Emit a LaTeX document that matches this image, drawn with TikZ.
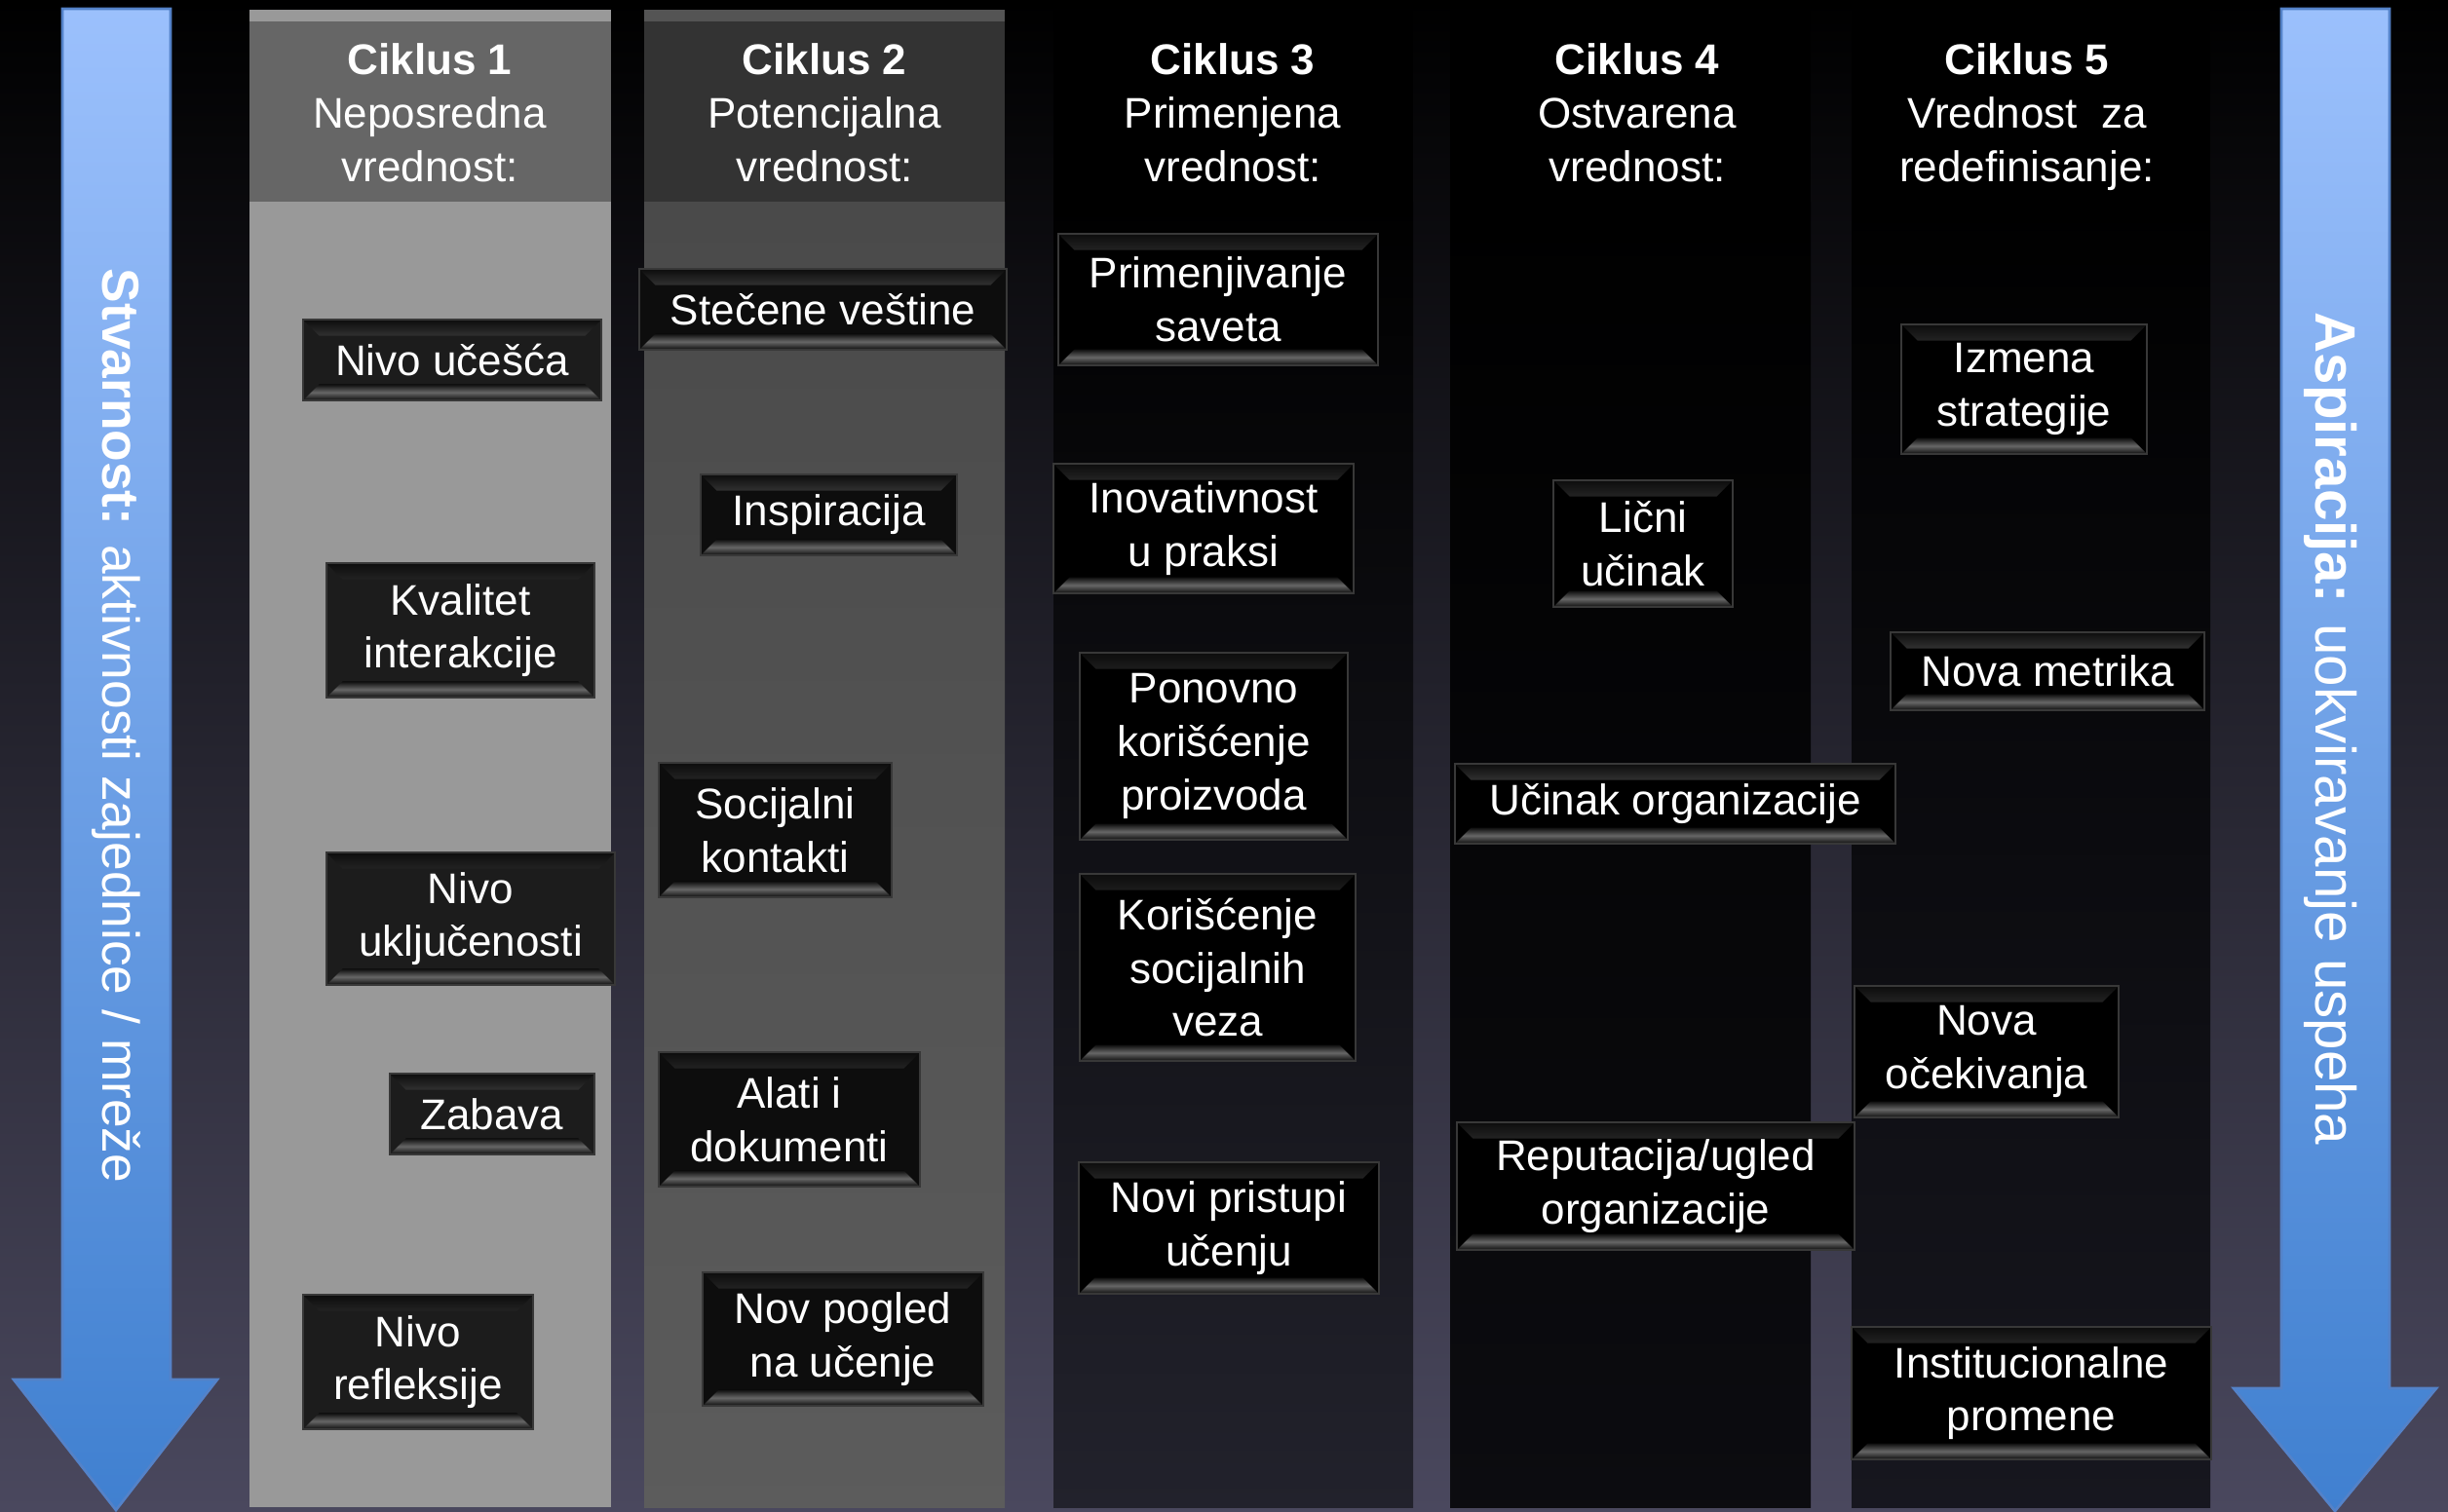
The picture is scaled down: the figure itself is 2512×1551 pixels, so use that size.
\documentclass[tikz,border=0pt]{standalone}
\usepackage{fontspec}
\setmainfont{Liberation Sans}
\usepackage{xcolor}
\usepackage{tikz}

\definecolor{pozadina}{RGB}{74,72,94}
\definecolor{strelaGore}{RGB}{155,192,252}
\definecolor{strelaDole}{RGB}{64,128,208}
\definecolor{strelaRub}{RGB}{84,130,200}
\definecolor{kolona3}{RGB}{34,34,44}
\definecolor{kolona4}{RGB}{12,12,16}
\definecolor{kolona5}{RGB}{23,23,31}

\tikzset{
  kosina/.style={top color=black!95, bottom color=black!95, middle color=black!60},
  dugme/.style 2 args={draw=black!78, fill=black, text=white, align=center, inner sep=0pt,
    minimum width=#1*0.3pt, minimum height=#2*0.3pt, font=\fontsize{13.2}{16.4}\selectfont,
    path picture={
      \fill[kosina] (path picture bounding box.north west) -- (path picture bounding box.north east)
        -- ([shift={(-5pt,-5pt)}]path picture bounding box.north east) -- ([shift={(5pt,-5pt)}]path picture bounding box.north west) -- cycle;
      \fill[kosina] (path picture bounding box.south west) -- (path picture bounding box.south east)
        -- ([shift={(-5pt,5pt)}]path picture bounding box.south east) -- ([shift={(5pt,5pt)}]path picture bounding box.south west) -- cycle;
    }},
  naslov/.style={text=white, align=center, anchor=north, font=\fontsize{13.2}{16.4}\selectfont},
  strela/.style={top color=strelaGore, bottom color=strelaDole, draw=strelaRub, line width=0.8pt},
  natpis/.style={text=white, rotate=-90},
}

\begin{document}
\begin{tikzpicture}[x=0.3pt,y=-0.3pt]
\useasboundingbox (0,0) rectangle (2512,1551);

%Shape: Background
\shade[top color=black, bottom color=pozadina] (0,0) rectangle (2512,1551);

%Shape: Arrow [left]
\draw[strela] (64,9) -- (175,9) -- (175,1416) -- (223,1416) -- (119,1550) -- (14,1416) -- (64,1416) -- cycle;
%Shape: Arrow [right]
\draw[strela] (2341,9) -- (2452,9) -- (2452,1425) -- (2500,1425) -- (2396,1551) -- (2292,1425) -- (2341,1425) -- cycle;

%Shape: Rectangle [ciklus 1]
\fill[black!40] (256,10) rectangle (627,1547);
\fill[black!60] (256,22) rectangle (627,207);
%Shape: Rectangle [ciklus 2]
\fill[black!67] (661,10) rectangle (1031,207);
\fill[black!80] (661,22) rectangle (1031,207);
\shade[top color=black!71, bottom color=black!64] (661,207) rectangle (1031,1547);
%Shape: Rectangle [ciklus 3]
\fill[black] (1081,10) rectangle (1450,207);
\shade[top color=black, bottom color=kolona3] (1081,207) rectangle (1450,1547);
%Shape: Rectangle [ciklus 4]
\fill[black] (1488,10) rectangle (1858,207);
\shade[top color=black, bottom color=kolona4] (1488,207) rectangle (1858,1547);
%Shape: Rectangle [ciklus 5]
\fill[black] (1900,10) rectangle (2268,207);
\shade[top color=black, bottom color=kolona5] (1900,207) rectangle (2268,1547);

% Text Node
\draw (119,745) node [natpis, font=\fontsize{16}{19}\selectfont] (stvarnost) {\textbf{Stvarnost:} aktivnosti zajednice / mreže};
% Text Node
\draw (2392,748) node [natpis, font=\fontsize{17.5}{21}\selectfont] (aspiracija) {\textbf{Aspiracija:} uokviravanje uspeha};

% Text Node
\draw (441,33) node [naslov] (ciklus1) {\textbf{Ciklus 1}\\Neposredna\\vrednost:};
% Text Node
\draw (846,33) node [naslov] (ciklus2) {\textbf{Ciklus 2}\\Potencijalna\\vrednost:};
% Text Node
\draw (1265,33) node [naslov] (ciklus3) {\textbf{Ciklus 3}\\Primenjena\\vrednost:};
% Text Node
\draw (1680,33) node [naslov] (ciklus4) {\textbf{Ciklus 4}\\Ostvarena\\vrednost:};
% Text Node
\draw (2080,33) node [naslov] (ciklus5) {\textbf{Ciklus 5}\\Vrednost\ \ za\\redefinisanje:};

% Ciklus 1
\draw (464,369.5) node [dugme={306}{83}, fill=black!89] (ucesce) {Nivo učešća};
\draw (472.5,647) node [dugme={275}{138}, fill=black!89] (kvalitet) {Kvalitet\\interakcije};
\draw (483,943) node [dugme={296}{136}, fill=black!89] (ukljucenost) {Nivo\\uključenosti};
\draw (505,1143.5) node [dugme={210}{83}, fill=black!89] (zabava) {Zabava};
\draw (429,1398) node [dugme={236}{138}, fill=black!89] (refleksija) {Nivo\\refleksije};

% Ciklus 2
\draw (844.5,317.5) node [dugme={377}{83}, fill=black!95] (vestine) {Stečene veštine};
\draw (850.5,528.5) node [dugme={263}{83}, fill=black!95] (inspiracija) {Inspiracija};
\draw (795.5,852) node [dugme={239}{138}, fill=black!95] (kontakti) {Socijalni\\kontakti};
\draw (810,1149) node [dugme={268}{138}, fill=black!95] (alati) {Alati i\\dokumenti};
\draw (865,1374.5) node [dugme={288}{137}, fill=black!95] (pogled) {Nov pogled\\na učenje};

% Ciklus 3
\draw (1250,307.5) node [dugme={328}{135}] (saveti) {Primenjivanje\\saveta};
\draw (1235,542.5) node [dugme={308}{133}] (inovativnost) {Inovativnost\\u praksi};
\draw (1245.5,766) node [dugme={275}{192}] (proizvodi) {Ponovno\\korišćenje\\proizvoda};
\draw (1249.5,993) node [dugme={283}{192}] (veze) {Korišćenje\\socijalnih\\veza};
\draw (1261,1260.5) node [dugme={308}{135}] (pristupi) {Novi pristupi\\učenju};

% Ciklus 4
\draw (1686,558) node [dugme={184}{130}] (licni) {Lični\\učinak};
\draw (1719,825) node [dugme={452}{82}] (organizacija) {Učinak organizacije};
\draw (1699,1217.5) node [dugme={408}{131}] (reputacija) {Reputacija/ugled\\organizacije};

% Ciklus 5
\draw (2077,399.5) node [dugme={252}{133}] (strategija) {Izmena\\strategije};
\draw (2101,689) node [dugme={322}{80}] (metrika) {Nova metrika};
\draw (2038.5,1079.5) node [dugme={271}{135}] (ocekivanja) {Nova\\očekivanja};
\draw (2084.5,1430) node [dugme={369}{136}] (promene) {Institucionalne\\promene};

\end{tikzpicture}
\end{document}
